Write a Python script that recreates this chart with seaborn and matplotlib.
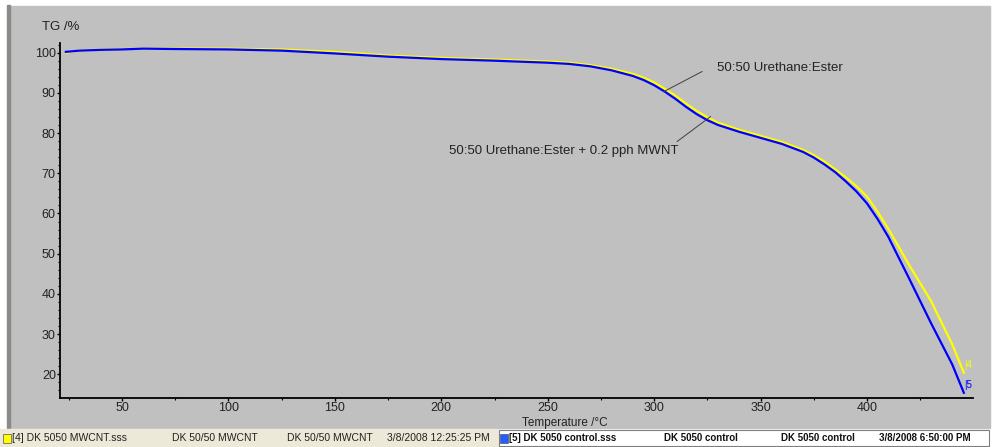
import matplotlib.pyplot as plt
import matplotlib.patches as mpatches
from matplotlib.ticker import MultipleLocator
import pandas as pd
import seaborn as sns

# temperature grid (degC) and mass (%)
temperature = [23.6, 30, 40, 50, 60, 75, 100, 125, 150, 175, 200, 225, 250, 260, 270,
               280, 290, 295, 300, 305, 310, 315, 320, 325, 330, 340, 350, 360, 370,
               375, 380, 385, 390, 395, 400, 405, 410, 420, 430, 440, 445.5]
tg_mwcnt = [100.0, 100.5, 100.8, 100.9, 101.0, 101.0, 101.0, 100.8, 100.2, 99.3, 98.7,
            98.3, 97.8, 97.5, 96.9, 96.0, 94.7, 93.8, 92.6, 91.0, 89.3, 87.3, 85.5,
            83.9, 82.6, 80.8, 79.3, 77.8, 75.8, 74.5, 72.9, 71.0, 69.0, 66.8, 64.2,
            60.4, 56.2, 47.0, 38.3, 27.5, 20.4]
tg_control = [100.2, 100.5, 100.7, 100.8, 101.0, 100.9, 100.8, 100.5, 99.8, 99.0, 98.4,
              98.0, 97.5, 97.2, 96.6, 95.6, 94.2, 93.2, 91.9, 90.3, 88.5, 86.5, 84.7,
              83.2, 82.0, 80.3, 78.8, 77.3, 75.3, 73.9, 72.2, 70.3, 68.0, 65.5, 62.5,
              58.6, 54.2, 43.6, 32.8, 22.5, 15.4]

label_plain = "50:50 Urethane:Ester"
label_mwnt = "50:50 Urethane:Ester + 0.2 pph MWNT"
status_left = ["[4] DK 5050 MWCNT.sss", "DK 50/50 MWCNT", "DK 50/50 MWCNT", "3/8/2008 12:25:25 PM"]
status_right = ["[5] DK 5050 control.sss", "DK 5050 control", "DK 5050 control", "3/8/2008 6:50:00 PM"]

df = pd.DataFrame({"T": temperature, "mwcnt": tg_mwcnt, "control": tg_control})

plt.rcParams['font.family'] = ['Liberation Sans', 'DejaVu Sans']
W, H = 996, 447
fig = plt.figure(figsize=(W / 100, H / 100), dpi=100, facecolor='white')


def px(x, y, w, h):
    # pixel box (top-left origin) -> figure fraction
    return [x / W, 1 - (y + h) / H, w / W, h / H]


# window background and frame
fig.patches.append(mpatches.Rectangle((10 / W, 1 - 428 / H), 980 / W, 422 / H,
                                      transform=fig.transFigure, color='#c0c0c0', zorder=-5))
fig.patches.append(mpatches.Rectangle((7 / W, 1 - 428 / H), 3 / W, 423 / H,
                                      transform=fig.transFigure, color='#8c8a86', zorder=-5))
# status bar
fig.patches.append(mpatches.Rectangle((0, 0), 498 / W, 18 / H,
                                      transform=fig.transFigure, color='#ece9d8', zorder=-5))
fig.patches.append(mpatches.Rectangle((499 / W, 1 / H), 490 / W, 16 / H, transform=fig.transFigure,
                                      facecolor='white', edgecolor='#7f7f7f', lw=0.8, zorder=-5))
fig.patches.append(mpatches.Rectangle((3 / W, 4 / H), 8 / W, 9 / H, transform=fig.transFigure,
                                      facecolor='#ffff00', edgecolor='#555555', lw=0.5, zorder=-4))
fig.patches.append(mpatches.Rectangle((500 / W, 4 / H), 8 / W, 9 / H, transform=fig.transFigure,
                                      facecolor='#2060ff', edgecolor='#555555', lw=0.5, zorder=-4))
for xp, s in zip([12, 172, 287, 387], status_left):
    fig.text(xp / W, 9 / H, s, fontsize=7.5, va='center', ha='left', color='#222222')
for xp, s in zip([509, 664, 781, 879], status_right):
    fig.text(xp / W, 9 / H, s, fontsize=7.0, va='center', ha='left', weight='bold', color='#111111')

ax = fig.add_axes(px(60, 43, 913, 355))
ax.set_zorder(3)
ax.set_facecolor('none')

sns.lineplot(data=df, x="T", y="mwcnt", color='#ffff00', lw=1.6, sort=False, ax=ax)
sns.lineplot(data=df, x="T", y="control", color='#0000ff', lw=1.6, sort=False, ax=ax)

ax.set_xlim(20.85, 449.8)
ax.set_ylim(14.1, 102.4)
ax.xaxis.set_major_locator(MultipleLocator(50))
ax.xaxis.set_minor_locator(MultipleLocator(25))
ax.yaxis.set_major_locator(MultipleLocator(10))
ax.yaxis.set_minor_locator(MultipleLocator(2))
for s in ['top', 'right']:
    ax.spines[s].set_visible(False)
for s in ['left', 'bottom']:
    ax.spines[s].set_linewidth(1.3)
    ax.spines[s].set_color('black')
ax.tick_params(which='major', length=2.5, width=1, labelsize=9, colors='black',
               labelcolor='#222222', pad=0.5)
ax.tick_params(which='minor', length=1.5, width=0.8)
ax.set_xlabel("")
ax.set_ylabel("")
fig.text(565 / W, 1 - 426 / H, "Temperature /°C", fontsize=8.5, va='baseline', ha='center',
         color='#222222')
fig.text(42 / W, 1 - 27 / H, "TG /%", fontsize=9.5, va='center', ha='left', color='#222222')

# curve end markers
ax.annotate("|4", (df["T"].iloc[-1], df["mwcnt"].iloc[-1]), xytext=(0, 2),
            textcoords='offset points', color='#ffff00', fontsize=7, va='bottom')
ax.annotate("|5", (df["T"].iloc[-1], df["control"].iloc[-1]), xytext=(0, 2),
            textcoords='offset points', color='#0000ff', fontsize=7, va='bottom')

# leader lines and labels
ax.plot([304.5, 322.5], [90.3, 95.3], color='#404040', lw=0.7)
ax.text(329.7, 96.2, label_plain, fontsize=9.5, color='#222222', va='center', ha='left')
ax.plot([326.5, 310.8], [84.1, 77.9], color='#404040', lw=0.7)
ax.text(311.5, 75.5, label_mwnt, fontsize=9.5, color='#222222', va='center', ha='right')

fig.savefig("out.png", dpi=100, facecolor=fig.get_facecolor())
